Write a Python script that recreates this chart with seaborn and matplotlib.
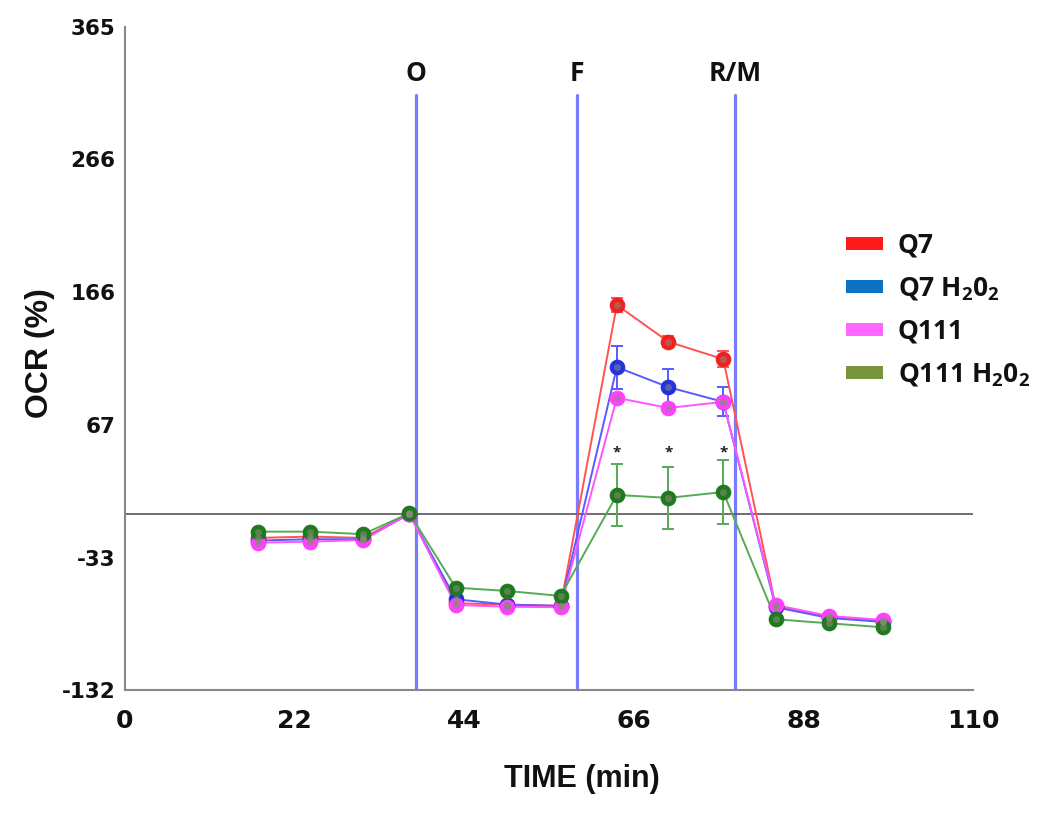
import matplotlib
matplotlib.use("Agg")
import matplotlib.pyplot as plt
from matplotlib.patches import Patch
import seaborn as sns
import pandas as pd
import numpy as np

# ---------------- data ----------------
times = [17.3, 24.0, 30.9, 36.9, 42.9, 49.6, 56.5, 63.8, 70.5, 77.6, 84.4, 91.3, 98.3]
groups = ["Q7", "Q7 H2O2", "Q111", "Q111 H2O2"]
q7 = [-18, -17, -18, 0, -67, -68, -69, 156.6, 129, 116, -69, -77, -80]
q7_h2o2 = [-20, -19, -19, 0, -64, -68, -69, 110, 95, 84, -70, -78, -81]
q111 = [-21.6, -20.8, -19.6, 0, -68.3, -69.6, -70, 87, 79.4, 84, -68.3, -76.5, -79.5]
q111_h2o2 = [-13.3, -13.3, -15.2, 0.5, -55.3, -57.8, -61.5, 14.2, 12, 16.4, -79, -82, -85]
err_q7 = [2, 2, 2, 1, 2, 2, 2, 5, 4, 6, 2, 2, 2]
err_q7_h2o2 = [2, 2, 2, 1, 2, 2, 2, 16, 13.5, 10.8, 2, 2, 2]
err_q111 = [2, 2, 2, 1, 2, 2, 2, 3, 3, 3, 2, 2, 2]
err_q111_h2o2 = [2, 2, 2, 1, 2, 2, 2, 23, 23, 24, 2, 2, 2]
injections = [37.8, 58.6, 79.1]
injection_labels = ["O", "F", "R/M"]
star_times = [63.8, 70.5, 77.6]
star_value = 46
yticks = [-132, -33, 67, 166, 266, 365]
xticks = [0, 22, 44, 66, 88, 110]
legend_labels = ["Q7", r"Q7 H$_\mathbf{2}$0$_\mathbf{2}$", "Q111", r"Q111 H$_\mathbf{2}$0$_\mathbf{2}$"]

series = {"Q7": (q7, err_q7), "Q7 H2O2": (q7_h2o2, err_q7_h2o2),
          "Q111": (q111, err_q111), "Q111 H2O2": (q111_h2o2, err_q111_h2o2)}
rows = []
for g in groups:
    vals, errs = series[g]
    for t, v, e in zip(times, vals, errs):
        rows.append({"time": t, "ocr": v, "err": e, "group": g})
df = pd.DataFrame(rows)

line_colors = {"Q7": "#ff5252", "Q7 H2O2": "#5a5aff", "Q111": "#ff55ff", "Q111 H2O2": "#55aa55"}
marker_colors = {"Q7": "#f02020", "Q7 H2O2": "#2233dd", "Q111": "#ff40ff", "Q111 H2O2": "#1f7a1f"}
legend_colors = ["#ff1a1a", "#0b72c4", "#ff66ff", "#77933c"]

# ---------------- figure ----------------
sns.set_theme(style="white")
plt.rcParams["font.family"] = ["Open Sans", "DejaVu Sans"]
plt.rcParams["mathtext.fontset"] = "custom"
plt.rcParams["mathtext.rm"] = "Open Sans"
plt.rcParams["mathtext.bf"] = "Open Sans:bold"
plt.rcParams["text.color"] = "#111111"
plt.rcParams["axes.labelcolor"] = "#111111"

fig = plt.figure(figsize=(10.5, 8.21), dpi=100)
ax = fig.add_axes([0.119, 0.1596, 0.8077, 0.8075])

# injection lines
for x, lab in zip(injections, injection_labels):
    ax.plot([x, x], [-132, 314], color="#7b7bff", lw=2.3, zorder=1)
    ax.text(x, 330, lab, ha="center", va="center", fontsize=19, fontweight="bold", color="#111111")

# zero line
ax.plot([0, 110], [0, 0], color="#555555", lw=1.2, zorder=1)

for g in groups:
    sub = df[df.group == g]
    ax.errorbar(sub.time, sub.ocr, yerr=sub.err, fmt="none", ecolor=line_colors[g],
                elinewidth=1.4, capsize=4, capthick=1.4, zorder=2)

sns.lineplot(data=df, x="time", y="ocr", hue="group", hue_order=groups,
             palette=line_colors, lw=1.4, legend=False, ax=ax, zorder=3,
             marker="o", markersize=0)
for g in groups:
    sub = df[df.group == g]
    ax.scatter(sub.time, sub.ocr, s=110, color=marker_colors[g], edgecolor=marker_colors[g],
               linewidth=0.8, zorder=4)
    ax.scatter(sub.time, sub.ocr, s=25, color="#8a8a7a", alpha=0.55, linewidth=0, zorder=5)

for t in star_times:
    ax.text(t, star_value, "*", ha="center", va="center", fontsize=11, fontweight="bold", color="#222222")

ax.set_xlim(0, 110)
ax.set_ylim(-132, 365)
ax.set_xticks(xticks)
ax.set_yticks(yticks)
ax.set_xticklabels([str(v) for v in xticks], fontsize=18, fontweight="bold", family="DejaVu Sans", color="#111111")
ax.set_yticklabels([str(v) for v in yticks], fontsize=15.5, fontweight="bold", family="DejaVu Sans", color="#111111")
ax.tick_params(axis="both", direction="out", length=5, width=1, color="#777777", pad=2)
ax.tick_params(axis="x", pad=9)
for s in ["top", "right"]:
    ax.spines[s].set_visible(False)
for s in ["left", "bottom"]:
    ax.spines[s].set_color("#888888")
    ax.spines[s].set_linewidth(1.5)

ax.set_xlabel("TIME (min)", fontsize=22, fontweight="bold", family="Liberation Sans")
ax.set_ylabel("OCR (%)", fontsize=23, fontweight="bold", family="Liberation Sans")
ax.xaxis.set_label_coords(0.539, -0.112)
ax.yaxis.set_label_coords(-0.082, 0.508)

handles = [Patch(facecolor=c, edgecolor="none") for c in legend_colors]
leg = ax.legend(handles, legend_labels, loc="upper left", bbox_to_anchor=(0.838, 0.707),
                frameon=False, fontsize=19, handlelength=1.4, handleheight=0.4,
                labelspacing=0.6, handletextpad=0.55, borderaxespad=0)
for t in leg.get_texts():
    t.set_fontweight("bold")

fig.savefig("out.png", dpi=100, facecolor="white")
